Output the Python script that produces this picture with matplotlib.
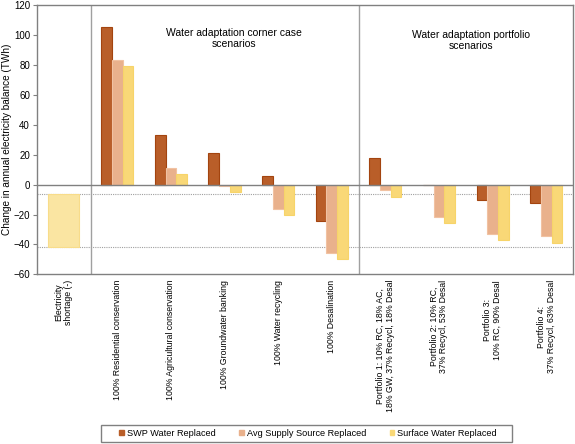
import numpy as np
import matplotlib
matplotlib.use('Agg')
import matplotlib.pyplot as plt
from matplotlib.patches import Patch, Rectangle

plt.rcParams['font.family'] = ['Liberation Sans', 'DejaVu Sans']

# categories along the x axis
categories = ['Electricity\nshortage (-)',
              '100% Residential conservation',
              '100% Agricultural conservation',
              '100% Groundwater banking',
              '100% Water recycling',
              '100% Desalination',
              'Portfolio 1: 10% RC, 18% AC,\n18% GW, 37% Recycl, 18% Desal',
              'Portfolio 2: 10% RC,\n37% Recycl, 53% Desal',
              'Portfolio 3:\n10% RC, 90% Desal',
              'Portfolio 4:\n37% Recycl, 63% Desal']

# scenario values (TWh), one per scenario category (excluding the shortage column)
swp_replaced = [105, 33, 21, 5.5, -24, 18, -0.5, -10.5, -12.5]
avg_replaced = [83, 11, -0.7, -16.5, -45.5, -3.8, -21.7, -32.7, -34.5]
surface_replaced = [79, 7, -5, -20.5, -50, -8, -25.5, -36.7, -39]

# electricity shortage range
shortage_top = -6.5
shortage_bottom = -42

series_names = ['SWP Water Replaced', 'Avg Supply Source Replaced', 'Surface Water Replaced']
face_colors = ['#B95E29', '#E9B18C', '#F9D877']
edge_colors = ['#A3440F', '#F1C2A2', '#F7D469']

fig = plt.figure(figsize=(5.75, 4.44), dpi=100)
ax = fig.add_axes([0.0643, 0.382, 0.9322, 0.6068])

x = np.arange(1, len(categories))
w = 0.2
for i, vals in enumerate([swp_replaced, avg_replaced, surface_replaced]):
    ax.bar(x + (i - 1) * w, vals, width=w, color=face_colors[i],
           edgecolor=edge_colors[i], linewidth=0.8, zorder=3)

# shortage band
ax.bar(0, shortage_bottom - shortage_top, bottom=shortage_top, width=0.58,
       color='#FAE5A2', edgecolor='#F8DC8A', linewidth=0.8, zorder=3)
ax.axhline(shortage_top, color='#A0A0A0', linestyle=(0, (1, 1)), linewidth=0.8, zorder=2)
ax.axhline(shortage_bottom, color='#A0A0A0', linestyle=(0, (1, 1)), linewidth=0.8, zorder=2)

ax.axhline(0, color='#808080', linewidth=1.0, zorder=4)
ax.axvline(0.5, color='#A0A0A0', linewidth=1.0, zorder=1)
ax.axvline(5.5, color='#A0A0A0', linewidth=1.0, zorder=1)

ax.set_xlim(-0.5, len(categories) - 0.5)
ax.set_ylim(-60, 120)
ax.set_yticks(np.arange(-60, 121, 20))
ax.set_xticks(np.arange(len(categories)))
ax.set_xticklabels(categories, rotation=90, fontsize=6.3, ha='center', va='top',
                   multialignment='center', linespacing=1.1)
ax.tick_params(axis='x', length=0, pad=4)
ax.tick_params(axis='y', labelsize=7, length=3, color='#808080', direction='out', pad=2)
for s in ax.spines.values():
    s.set_color('#808080')
    s.set_linewidth(1.0)
ax.set_ylabel('Change in annual electricity balance (TWh)', fontsize=7.2)
ax.yaxis.set_label_coords(-0.047, 0.5)

ax.text(3.17, 104.5, 'Water adaptation corner case\nscenarios', ha='center', va='top',
        fontsize=7.5, linespacing=1.15)
ax.text(7.6, 103.5, 'Water adaptation portfolio\nscenarios', ha='center', va='top',
        fontsize=7.5, linespacing=1.15)

# legend box drawn separately, entries placed inside it
fig.patches.append(Rectangle((101 / 575, 1 - 442 / 444), 411 / 575, 17 / 444,
                             transform=fig.transFigure, facecolor='white',
                             edgecolor='#808080', linewidth=1.0, zorder=0))
handles = [Patch(facecolor=c, edgecolor=c) for c in face_colors]
fig.legend(handles, series_names, loc='center', bbox_to_anchor=(0.5357, 0.0236),
           ncol=3, fontsize=6.6, frameon=False,
           handlelength=0.5, handleheight=0.5, handletextpad=0.3,
           columnspacing=2.6, borderpad=0.2)

fig.savefig('out.png', dpi=100)
